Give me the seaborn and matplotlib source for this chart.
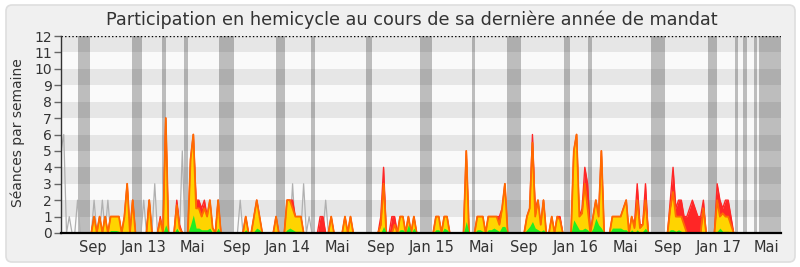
import numpy as np
import pandas as pd
import matplotlib
matplotlib.use("Agg")
import matplotlib.pyplot as plt
from matplotlib.patches import FancyBboxPatch
from matplotlib.transforms import IdentityTransform
import seaborn as sns

# ---------------- data (weekly values, week 0 = early June 2012) ----------------
N_WEEKS = 262

# red area: présences (séances par semaine) -- non-zero weeks only
presence = {
    12: 1, 14: 1, 16: 1, 18: 1, 19: 1, 20: 1, 21: 1, 23: 1, 24: 3, 26: 2, 32: 2,
    36: 1, 38: 7, 42: 2, 43: 0.5, 47: 4.5, 48: 6, 49: 2, 50: 2, 51: 1.5, 52: 2,
    53: 1, 54: 2, 55: 0.3, 57: 2, 67: 1, 70: 1, 71: 2, 72: 1, 78: 1, 82: 2, 83: 2,
    84: 2, 85: 1, 86: 1, 87: 1, 94: 1, 95: 1, 98: 1, 103: 1, 105: 1, 116: 1,
    117: 4, 120: 1, 121: 1, 123: 1, 124: 1, 126: 1, 128: 1, 136: 1, 137: 1,
    139: 1, 140: 1, 147: 5, 151: 1, 152: 1, 153: 1, 155: 1, 156: 1, 157: 1,
    158: 1, 159: 1, 160: 1.5, 161: 3, 169: 1, 170: 1.5, 171: 6, 172: 1.5,
    173: 2, 174: 0.5, 175: 2, 178: 1, 180: 1, 181: 1, 186: 5, 187: 6, 188: 1,
    189: 1.5, 190: 4, 191: 3, 193: 1, 194: 2, 195: 1, 196: 5, 200: 1, 201: 1,
    202: 1, 203: 1, 204: 1.5, 205: 2, 207: 1, 208: 0.5, 209: 3, 210: 0.5,
    211: 0.5, 212: 3, 221: 2, 222: 4, 223: 1.5, 224: 2, 225: 2, 226: 1, 227: 1,
    228: 1.5, 229: 2, 230: 1.5, 231: 1, 232: 1, 233: 2, 238: 3, 239: 2,
    240: 1.5, 241: 2, 242: 2, 243: 1,
}

# yellow area / orange line: participation
participation = {
    12: 1, 14: 1, 16: 1, 18: 1, 19: 1, 20: 1, 21: 1, 23: 1, 24: 3, 26: 2, 32: 2,
    36: 0.8, 38: 7, 42: 1.7, 43: 0.3, 47: 4.5, 48: 6, 49: 1.5, 50: 1.5, 51: 1,
    52: 1.5, 53: 1, 54: 2, 55: 0.3, 57: 2, 67: 1, 70: 1, 71: 2, 72: 1, 78: 1,
    82: 2, 83: 2, 84: 1.5, 85: 1, 86: 1, 87: 1, 98: 1, 103: 1, 105: 1, 116: 0.5,
    117: 3, 121: 0.5, 123: 1, 124: 1, 126: 1, 128: 1, 136: 1, 137: 1, 139: 1,
    140: 1, 147: 5, 151: 1, 152: 1, 153: 1, 155: 1, 156: 1, 157: 1, 158: 1,
    159: 0.5, 160: 1.5, 161: 3, 169: 1, 170: 1.5, 171: 5.5, 172: 1, 173: 2,
    174: 0.5, 175: 2, 178: 1, 180: 1, 181: 0.8, 186: 5, 187: 6, 188: 1,
    189: 1.2, 190: 3, 191: 1.5, 193: 1, 194: 2, 195: 1, 196: 5, 200: 1, 201: 1,
    202: 1, 203: 1, 204: 1.5, 205: 2, 207: 1, 208: 0.3, 209: 2, 210: 0.3,
    211: 0.5, 212: 2, 221: 1.5, 222: 2.5, 223: 1, 224: 1, 225: 1, 226: 0.5,
    233: 1.5, 238: 2, 239: 1, 240: 1.2, 241: 1, 242: 1, 243: 0.5,
}

# green area: questions / interventions longues
questions = {
    12: 0.1, 14: 0.1, 16: 0.1, 18: 0.15, 19: 0.15, 20: 0.15, 21: 0.1, 24: 0.1,
    26: 0.1, 32: 0.1, 38: 0.5, 42: 0.3, 47: 0.5, 48: 1.1, 49: 0.3, 50: 0.3,
    51: 0.2, 52: 0.2, 53: 0.2, 54: 0.3, 57: 0.3, 67: 0.2, 70: 0.1, 71: 0.3,
    72: 0.2, 78: 0.1, 82: 0.2, 83: 0.3, 84: 0.2, 85: 0.1, 86: 0.1, 87: 0.1,
    98: 0.1, 103: 0.1, 105: 0.1, 117: 0.4, 123: 0.2, 124: 0.2, 126: 0.5,
    128: 0.3, 136: 0.2, 137: 0.2, 139: 0.3, 140: 0.2, 147: 0.7, 151: 0.2,
    152: 0.2, 153: 0.1, 155: 0.2, 156: 0.2, 157: 0.3, 158: 0.2, 159: 0.1,
    160: 0.4, 161: 0.4, 169: 0.2, 170: 0.4, 171: 0.7, 172: 0.3, 173: 0.2,
    174: 0.1, 175: 0.2, 178: 0.1, 180: 0.1, 181: 0.1, 186: 0.8, 187: 0.5,
    188: 0.2, 189: 0.2, 190: 0.3, 191: 0.2, 193: 0.3, 194: 0.9, 195: 0.5,
    196: 0.3, 200: 0.3, 201: 0.3, 202: 0.3, 203: 0.3, 204: 0.2, 205: 0.2,
    207: 0.2, 209: 0.2, 211: 0.1, 212: 0.3, 221: 0.2, 222: 0.2, 223: 0.1,
    224: 0.2, 225: 0.1, 233: 0.1, 238: 0.1, 239: 0.3, 240: 0.1, 241: 0.1,
    242: 0.1,
}

# grey line
mediane = {
    0: 5, 1: 6, 3: 1, 6: 2, 12: 2, 15: 2, 17: 2, 30: 2, 32: 2, 34: 3, 44: 5,
    57: 2, 65: 2, 84: 3, 88: 3, 90: 1, 96: 2,
}

# vacation periods (start week, end week)
vacances = [
    (6.2, 10.5), (25.8, 29.4), (36.6, 38.1), (44.6, 46.1), (57.3, 62.7),
    (78.0, 81.2), (90.7, 92.1), (110.6, 112.8), (130.2, 134.6), (149.1, 150.2),
    (161.8, 166.8), (182.4, 184.6), (191.2, 192.6), (214.0, 219.1),
    (234.7, 238.0), (244.5, 245.5), (247.4, 248.8), (251.4, 252.5),
    (253.3, 261.2),
]

tick_weeks = [11.5, 30.1, 47.8, 63.7, 82.3, 100.2, 116.0, 134.5, 152.6, 167.9,
              186.7, 204.6, 220.1, 238.7, 256.0]
tick_labels = ["Sep", "Jan 13", "Mai", "Sep", "Jan 14", "Mai", "Sep", "Jan 15",
               "Mai", "Sep", "Jan 16", "Mai", "Sep", "Jan 17", "Mai"]

TITLE = "Participation en hemicycle au cours de sa dernière année de mandat"
YLABEL = "Séances par semaine"


def dense(d):
    arr = np.zeros(N_WEEKS)
    for k, v in d.items():
        arr[k] = v
    return arr


df = pd.DataFrame({
    "semaine": np.arange(N_WEEKS),
    "presence": dense(presence),
    "participation": dense(participation),
    "questions": dense(questions),
    "mediane": dense(mediane),
})

# ---------------- figure ----------------
sns.set_style("white")
plt.rcParams["font.family"] = ["DejaVu Sans"]
TXT = "#333333"

W, H = 800, 267
fig = plt.figure(figsize=(W / 100, H / 100), dpi=100)
fig.patch.set_facecolor("white")

panel = FancyBboxPatch((6, 5), 789, 257, boxstyle="round,pad=0,rounding_size=6",
                       transform=IdentityTransform(), facecolor="#f0f0f0",
                       edgecolor="#dedede", linewidth=1.2, zorder=-10)
fig.patches.append(panel)

ax = fig.add_axes([61 / W, 34 / H, 720 / W, 197 / H])
ax.set_zorder(1)
ax.set_facecolor("none")
XMAX = 720 / 2.757
ax.set_xlim(0, XMAX)
ax.set_ylim(0, 12)

for i in range(12):
    ax.axhspan(i, i + 1, color="#e6e6e6" if i % 2 == 1 else "#fafafa",
               lw=0, zorder=0)
for a, b in vacances:
    ax.axvspan(a, b, color="black", alpha=0.245, lw=0, zorder=1)

x = df["semaine"]
sns.lineplot(data=df, x="semaine", y="mediane", ax=ax, color="#b0b0b0",
             lw=0.9, zorder=2)
ax.fill_between(x, 0, df["presence"], color="#ff2626", lw=0, zorder=3)
sns.lineplot(data=df, x="semaine", y="presence", ax=ax, color="#ff2626",
             lw=1.0, zorder=3.5)
ax.fill_between(x, 0, df["participation"], color="#ffd400", lw=0, zorder=4)
sns.lineplot(data=df, x="semaine", y="participation", ax=ax, color="#ff6a00",
             lw=1.3, zorder=5)
ax.fill_between(x, 0, df["questions"], color="#22ee22", lw=0, zorder=6)

ax.axhline(12, color="black", ls=(0, (1, 1.6)), lw=1.0, zorder=7)

for s in ["top", "right"]:
    ax.spines[s].set_visible(False)
ax.spines["left"].set_color("#333333")
ax.spines["left"].set_linewidth(1.0)
ax.spines["bottom"].set_color("black")
ax.spines["bottom"].set_linewidth(1.6)
ax.spines["left"].set_zorder(8)
ax.spines["bottom"].set_zorder(8)

ax.set_yticks(range(13))
ax.set_yticklabels([str(i) for i in range(13)])
ax.set_xticks(tick_weeks)
ax.set_xticklabels(tick_labels)
ax.tick_params(axis="y", length=5, width=1, color="#666666", pad=1.5,
               labelsize=10, labelcolor=TXT, left=True)
ax.tick_params(axis="x", length=0, pad=5, labelsize=10.5, labelcolor=TXT)
ax.set_xlabel("")
ax.set_ylabel("")
ax.grid(False)

fig.text(412 / W, 1 - 20 / H, TITLE, ha="center", va="center",
         fontsize=12.7, color=TXT)
fig.text(18 / W, 1 - 133 / H, YLABEL, ha="center", va="center",
         rotation=90, fontsize=10, color=TXT)

fig.savefig("out.png", dpi=100, facecolor=fig.get_facecolor())
